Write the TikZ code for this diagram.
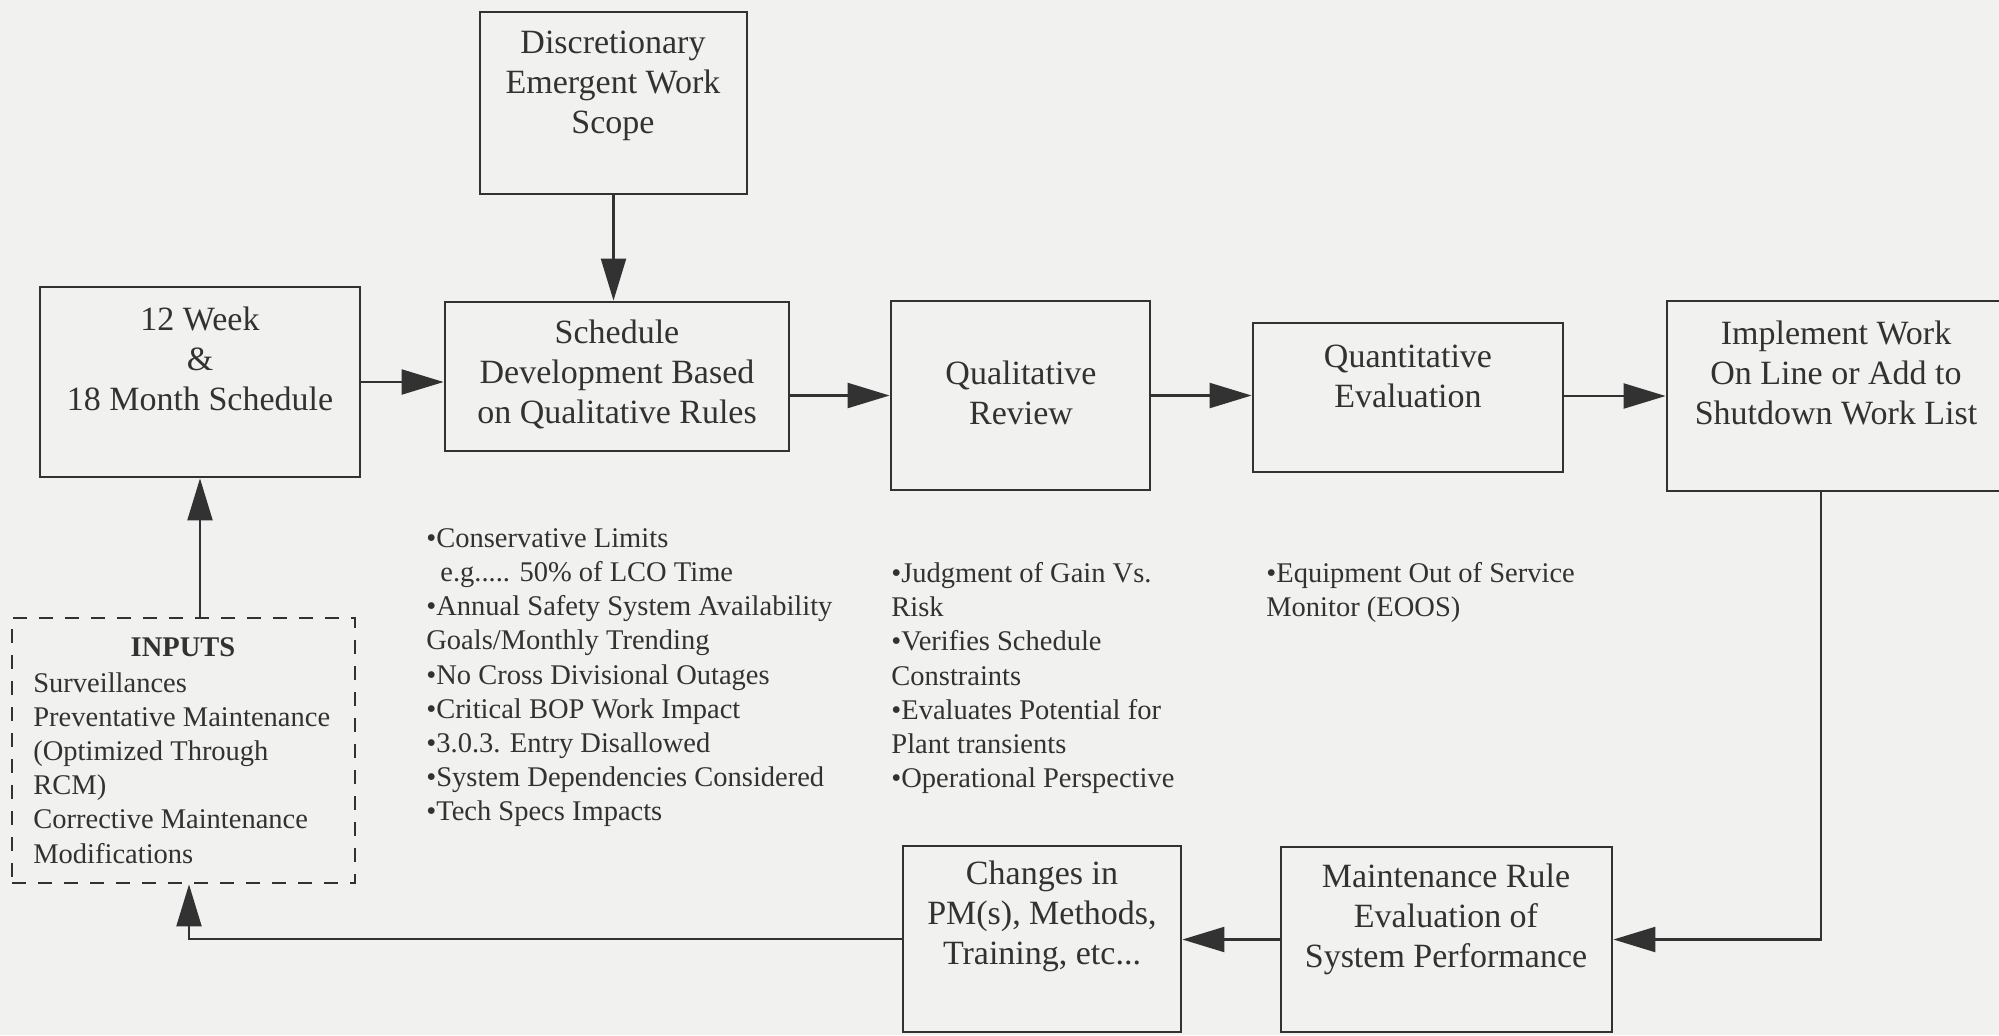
\documentclass[tikz,border=0pt]{standalone}
\usepackage{fontspec}
\setmainfont{Liberation Serif}
\usetikzlibrary{arrows.meta}
\definecolor{paper}{RGB}{241,241,239}
\definecolor{ink}{RGB}{50,50,50}

\begin{document}
\begin{tikzpicture}[x=0.5pt, y=-0.5pt,
  box/.style={draw=ink, line width=1.4pt, inner sep=0pt},
  dashbox/.style={draw=ink, line width=1.4pt, dash pattern=on 7pt off 6pt, inner sep=0pt},
  boxtext/.style={text=ink, align=center, inner sep=0pt, font=\fontsize{17}{20}\selectfont},
  notes/.style={text=ink, align=left, inner sep=0pt, anchor=north west, font=\fontsize{14.25}{17.1}\selectfont},
  flow/.style={draw=ink, line width=1.1pt, -{Triangle[length=21pt,width=12.5pt]}}]

% page and clipping frame
\useasboundingbox (0,0) rectangle (1999,1035);
\fill[paper] (0,0) rectangle (1999,1035);
\clip (0,0) rectangle (1999,1035);

% process boxes
\node[box, minimum width=133.5pt, minimum height=91pt]  (disc)  at (613.5,103)  {};
\node[box, minimum width=160pt,   minimum height=95pt]  (week)  at (200,382)    {};
\node[box, minimum width=172pt,   minimum height=74.5pt] (sched) at (617,376.5) {};
\node[box, minimum width=129.5pt, minimum height=94.5pt] (qual)  at (1020.5,395.5) {};
\node[box, minimum width=155pt,   minimum height=74.5pt] (quant) at (1408,397.5) {};
\node[box, minimum width=169pt,   minimum height=95pt]  (impl)  at (1836,396)   {};
\node[box, minimum width=165.5pt, minimum height=92.5pt] (maint) at (1446.5,939.5) {};
\node[box, minimum width=139pt,   minimum height=93pt]  (chg)   at (1042,939)   {};
\node[dashbox, minimum width=171.5pt, minimum height=132.5pt] (inputs) at (183.5,750.5) {};

% box captions
\node[boxtext] (disc-t)  at (613,86)    {Discretionary\\Emergent Work\\Scope};
\node[boxtext] (week-t)  at (200,359)   {12 Week\\\&\\18 Month Schedule};
\node[boxtext] (sched-t) at (617,374)   {Schedule\\Development Based\\on Qualitative Rules};
\node[boxtext] (qual-t)  at (1021,393)  {Qualitative\\Review};
\node[boxtext] (quant-t) at (1408,376)  {Quantitative\\Evaluation};
\node[boxtext] (impl-t)  at (1836,373)  {Implement Work\\On Line or Add to\\Shutdown Work List};
\node[boxtext] (maint-t) at (1446,919)  {Maintenance Rule\\Evaluation of\\System Performance};
\node[boxtext] (chg-t)   at (1042,916)  {Changes in\\PM(s), Methods,\\Training, etc...};

% inputs list
\node[text=ink, inner sep=0pt, font=\fontsize{14.25}{17.1}\selectfont\bfseries] (inputs-t) at (183,647) {INPUTS};
\node[notes] (inputs-l) at (33,672) {Surveillances\\Preventative Maintenance\\(Optimized Through\\RCM)\\Corrective Maintenance\\Modifications};

% notes under the stages
\node[notes] (sched-n) at (426,528) {•Conservative Limits\\\hspace*{7pt}e.g..... 50\% of LCO Time\\•Annual Safety System Availability\\Goals/Monthly Trending\\•No Cross Divisional Outages\\•Critical BOP Work Impact\\•3.0.3. Entry Disallowed\\•System Dependencies Considered\\•Tech Specs Impacts};
\node[notes] (qual-n) at (891,562) {•Judgment of Gain Vs.\\Risk\\•Verifies Schedule\\Constraints\\•Evaluates Potential for\\Plant transients\\•Operational Perspective};
\node[notes] (quant-n) at (1266,562) {•Equipment Out of Service\\Monitor (EOOS)};

% connectors
\coordinate (drop) at (1821,940);
\coordinate (rise) at (189,940);
\draw[flow] (disc.south) -- (disc.south |- sched.north);
\draw[flow] (week.east) -- (week.east -| sched.west);
\draw[flow] (sched.east |- qual.west) -- (qual.west);
\draw[flow] (qual.east) -- (qual.east -| quant.west);
\draw[flow] (quant.east |- impl.west) -- (impl.west);
\draw[flow] (impl.south -| drop) |- (maint.east);
\draw[flow] (maint.west) -- (maint.west -| chg.east);
\draw[flow] (chg.west) -| (inputs.south -| rise);
\draw[flow] (inputs.north -| week.south) -- (week.south);
\end{tikzpicture}
\end{document}
